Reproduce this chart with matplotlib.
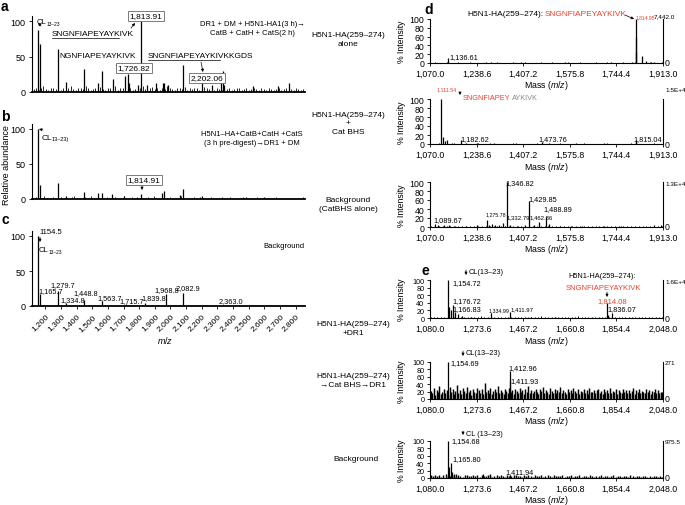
import matplotlib.pyplot as plt
import numpy as np
from matplotlib.patches import FancyArrowPatch
from matplotlib.lines import Line2D

plt.rcParams['font.family'] = ['Liberation Sans Narrow', 'Liberation Sans', 'DejaVu Sans']
plt.rcParams['mathtext.fontset'] = 'custom'
plt.rcParams['mathtext.rm'] = 'Liberation Sans'
plt.rcParams['mathtext.it'] = 'Liberation Sans:italic'

# ---- data (m/z, relative intensity) ----
a_mz = [1154.5, 1165.7, 1279.7, 1334.8, 1448.8, 1535.0, 1563.7, 1631.0, 1711.0, 1726.8, 1733.0, 1795.0,
        1813.9, 1848.0, 1905.0, 1950.0, 1956.0, 1987.0, 2082.9, 2202.1, 2268.0, 2323.0, 2338.0, 2345.0,
        2530.0, 2690.0, 2758.0]
a_int = [88, 67, 60, 14, 33, 12, 30, 19, 22, 25, 12, 10, 100, 10, 12, 13, 12, 10, 38, 14, 10, 25, 29, 10, 8, 8, 13]
a_noise = [4, 6, 3, 5, 8, 4, 3, 6, 5, 4, 7, 3, 5, 4, 6, 9, 4, 3, 5, 6, 4, 8, 5, 3, 4, 6, 5, 7, 4, 3, 6, 5, 4, 8,
           3, 5, 6, 4, 7, 5, 3, 4, 6, 5, 9, 4, 3, 5, 7, 4, 6, 3, 5, 4, 8, 6, 4, 3, 5, 6, 4, 7, 3, 5, 4, 6, 5, 3,
           4, 7, 5, 4, 6, 3, 5, 4, 3, 6, 4, 5, 3, 4, 6, 5, 3, 4, 5, 3, 4, 6, 4, 3, 5, 4, 3, 5, 4, 3, 4, 6, 3, 4,
           5, 3, 4, 3, 5, 4, 3, 4]

b_mz = [1154.5, 1165.7, 1279.7, 1334.8, 1448.8, 1535.0, 1563.7, 1625.0, 1700.0, 1814.9, 1945.0, 1956.0,
        2060.0, 2082.9, 2200.0, 2480.0, 2600.0]
b_int = [100, 20, 23, 5, 10, 9, 9, 7, 4, 7, 9, 12, 6, 15, 4, 3, 3]
b_noise = [2, 3, 1, 2, 4, 2, 1, 3, 2, 2, 3, 1, 2, 2, 3, 4, 2, 1, 2, 3, 2, 4, 2, 1, 2, 3, 2, 3, 2, 1, 3, 2, 2, 4,
           1, 2, 3, 2, 3, 2, 1, 2, 3, 2, 4, 2, 1, 2, 3, 2, 3, 1, 2, 2, 4, 3, 2, 1, 2, 3, 2, 3, 1, 2, 2, 3, 2, 1,
           2, 3, 2, 2, 3, 1, 2, 2, 1, 3, 2, 2, 1, 2, 3, 2, 1, 2, 2, 1, 2, 3, 2, 1, 2, 2, 1, 2, 2, 1, 2, 3]

c_mz = [1154.5, 1165.7, 1279.7, 1334.8, 1448.8, 1563.7, 1715.7, 1839.8, 1968.8, 2082.9, 2363.0]
c_int = [100, 17, 22, 4, 9, 7, 3, 4, 17, 19, 2]
c_noise = [1, 2, 1, 1, 2, 1, 1, 2, 1, 1, 2, 1, 1, 1, 2, 1, 1, 2, 1, 1, 1, 2, 1, 1, 2, 1, 1, 1, 2, 1, 1, 2, 1, 1,
           1, 2, 1, 1, 1, 1, 2, 1, 1, 1, 2, 1, 1, 1, 1, 2, 1, 1, 1, 1, 1, 2, 1, 1, 1, 1]
c_ticks = list(range(1200, 2801, 100))

d_ticks = [1070.0, 1238.6, 1407.2, 1575.8, 1744.4, 1913.0]
e_ticks = [1080.0, 1273.6, 1467.2, 1660.8, 1854.4, 2048.0]

d1_mz = [1136.61, 1290, 1400, 1560, 1724, 1800, 1814.95, 1815.95, 1816.95, 1836.9, 1852, 1868, 1880]
d1_int = [12, 2, 1.5, 1.5, 3, 2, 100, 59, 25, 17, 5, 3, 2]
d1_noise = [1, 1.5, 0.8, 1, 1.2, 0.8, 1, 1.5, 1, 0.8, 1.2, 1, 0.8, 1, 1.4, 1, 0.8, 1.2, 1, 0.8, 1, 1.5, 1, 0.8,
            1.2, 1, 0.8, 1, 1.3, 1, 0.8, 1.2, 1, 0.8, 1, 1.4, 1, 0.8, 1.2, 1, 0.8, 1, 1.5, 1, 0.8, 1.2, 1, 0.8,
            1, 1.3, 1, 0.8, 1.2, 1, 0.8, 1, 1.4, 1, 0.8, 1.2]

d2_mz = [1111.54, 1117, 1124, 1131, 1150, 1182.62, 1200, 1240, 1300, 1380, 1473.76, 1500, 1600, 1700, 1815.04, 1817]
d2_int = [100, 15, 6, 8, 3, 8, 2, 2, 2, 2, 5, 2, 2, 2, 8, 4]
d2_noise = [1, 0.8, 1.2, 1, 0.7, 1, 1.3, 0.8, 1, 1.1, 0.7, 1, 1.2, 0.8, 1, 1.3, 0.7, 1, 1.1, 0.8, 1, 1.2, 0.7, 1,
            1.1, 0.8, 1, 1.3, 0.7, 1, 1.1, 0.8, 1, 1.2, 0.7, 1, 1.1, 0.8, 1, 1.3, 0.7, 1, 1.1, 0.8, 1, 1.2, 0.7,
            1, 1.1, 0.8, 1, 1.2, 0.7, 1, 1.1, 0.8, 1, 1.3, 0.7, 1]

d3_mz = [1089.67, 1100, 1120, 1140, 1160, 1200, 1240, 1275.78, 1285, 1295, 1305, 1318, 1332.79, 1346.82, 1360,
         1390, 1415, 1429.85, 1446, 1462.86, 1488.89, 1500, 1540, 1580, 1620, 1700, 1760, 1880, 1905]
d3_int = [6, 4, 5, 4, 3, 3, 4, 15, 5, 6, 5, 4, 10, 100, 5, 3, 4, 57, 4, 12, 22, 6, 3, 3, 3, 2, 2, 4, 5]
d3_noise = [2, 1.5, 2.5, 1.8, 2, 1.5, 2.2, 1.8, 2.5, 1.5, 2, 1.8, 2.2, 1.5, 2.4, 1.8, 2, 1.5, 2.2, 1.8, 2.5, 1.5,
            2, 1.8, 2.2, 1.5, 2.4, 1.8, 2, 1.5, 2.2, 1.8, 2.5, 1.5, 2, 1.8, 2.2, 1.5, 2.4, 1.8, 2, 1.5, 2.2, 1.8,
            2.5, 1.5, 2, 1.8, 2.2, 1.5, 2.4, 1.8, 2, 1.5, 2.2, 1.8, 2.5, 1.5, 2, 1.8]

e1_mz = [1154.72, 1160, 1165.83, 1176.72, 1185, 1195, 1215, 1250, 1334.99, 1411.97, 1500, 1600, 1814.08, 1820, 1836.07]
e1_int = [100, 28, 20, 35, 15, 10, 4, 3, 12, 15, 3, 3, 40, 8, 12]
e1_noise = [2, 3, 1.5, 2.5, 3.5, 2, 1.5, 3, 2.5, 2, 3.5, 1.5, 2.5, 2, 3, 4, 2, 1.5, 2.5, 3, 2, 3.5, 2.5, 1.5, 2,
            3, 2.5, 3.5, 2, 1.5, 3, 2.5, 2, 4, 1.5, 2.5, 3, 2, 3.5, 2.5, 1.5, 2, 3, 2.5, 4, 2, 1.5, 2.5, 3.5, 2,
            3, 1.5, 2.5, 2, 4, 3, 2, 1.5, 2.5, 3, 2, 3.5, 1.5, 2.5, 2, 3, 2.5, 1.5, 2, 3.5]

e2_mz = [1154.69, 1411.93, 1412.96]
e2_int = [100, 50, 75]
e2_noise = [22, 15, 30, 12, 25, 18, 35, 14, 20, 28, 16, 24, 12, 32, 19, 26, 14, 22, 38, 17, 24, 13, 29, 21, 16,
            33, 18, 25, 12, 27, 20, 15, 31, 23, 17, 26, 14, 44, 19, 24, 16, 29, 13, 22, 27, 18, 34, 15, 25, 20,
            14, 28, 22, 17, 31, 19, 24, 13, 26, 21, 16, 30, 18, 23, 14, 27, 20, 36, 17, 25, 15, 22, 28, 19, 13,
            26, 21, 32, 16, 24, 18, 14, 29, 22, 17, 27, 15, 23, 19, 33, 16, 25, 20, 14, 28, 18, 24, 15, 30, 21,
            17, 26, 13, 22, 19, 27, 16, 24, 14, 31, 20, 18, 25, 15, 23, 28, 17, 21, 14, 26, 19, 24, 16, 29, 15,
            22, 18, 27, 13, 24, 20, 16, 28, 19, 23, 15, 25, 17, 21, 30, 14, 23, 18, 26, 16, 22, 20, 15, 27, 18,
            24, 14, 21, 19, 26, 17, 23, 15, 20, 18]

e3_mz = [1154.68, 1160, 1165.80, 1170, 1180, 1190, 1300, 1330, 1411.94]
e3_int = [100, 30, 40, 15, 12, 10, 12, 10, 9]
e3_noise = [7, 5, 9, 6, 8, 4, 7, 10, 6, 5, 8, 7, 5, 9, 6, 4, 8, 7, 5, 6, 9, 5, 7, 4, 8, 6, 5, 7, 9, 4, 6, 8, 5,
            7, 6, 4, 8, 5, 6, 7, 9, 5, 6, 4, 7, 5, 8, 6, 4, 7, 5, 6, 8, 4, 5, 7, 6, 4, 8, 5, 6, 5, 7, 4, 6, 5, 8,
            4, 6, 5, 7, 4, 5, 6, 4, 7, 5, 4, 6, 5, 7, 4, 5, 6, 4, 5, 7, 4, 6, 5, 4, 6, 5, 4, 7, 5, 4, 6, 5, 4, 5,
            6, 4, 5, 4, 6, 5, 4, 5, 4]

W, H = 685, 506
fig = plt.figure(figsize=(W / 100, H / 100), dpi=100)


def fx(x):
    return x / W


def fy(y):
    return 1 - y / H


def txt(x, y, s, size=6, ha='left', va='center', **kw):
    return fig.text(fx(x), fy(y), s, fontsize=size, ha=ha, va=va, **kw)


def arrow(x0, y0, x1, y1, color='k'):
    fig.add_artist(FancyArrowPatch((fx(x0), fy(y0)), (fx(x1), fy(y1)), transform=fig.transFigure,
                                   arrowstyle='-|>', mutation_scale=4, lw=0.5, color=color,
                                   shrinkA=0, shrinkB=0))


def uline(x0, x1, y):
    fig.add_artist(Line2D([fx(x0), fx(x1)], [fy(y), fy(y)], transform=fig.transFigure, lw=0.5, color='k'))


def boxed(x, y, s):
    txt(x, y, s, size=6, ha='center',
        bbox=dict(boxstyle='square,pad=0.15', fc='white', ec='0.4', lw=0.6))


def cl_label(x, y, sub, size=6):
    txt(x, y, 'CL', size=size)
    txt(x + 9.5, y + 2, sub, size=size - 2)


def spec_axes(x0, x1, y100, y0, ymax):
    top = y0 - (y0 - y100) * ymax / 100
    ax = fig.add_axes([fx(x0), fy(y0), (x1 - x0) / W, (y0 - top) / H])
    ax.set_ylim(0, ymax)
    return ax


def left_panel(y100, y0, mz, inten, noise):
    ax = spec_axes(32, 305, y100, y0, 107)
    ax.set_xlim(1115, 2860)
    ax.vlines(np.linspace(1125, 2850, len(noise)), 0, noise, color='k', lw=0.6)
    ax.vlines(mz, 0, inten, color='k', lw=0.9)
    for s in ['top', 'right']:
        ax.spines[s].set_visible(False)
    ax.spines['left'].set_linewidth(0.8)
    ax.spines['bottom'].set_linewidth(1.3)
    ax.set_yticks([0, 50, 100])
    ax.tick_params(axis='y', labelsize=6.5, length=2.5, width=0.6, pad=2)
    ax.tick_params(axis='x', bottom=False, labelbottom=False)
    return ax


def right_panel(y100, y0, xlim, ticks, mz, inten, noise, top_label, top_xy, noise_lw=0.7, ysize=6.3):
    ax = spec_axes(430, 663, y100, y0, 100.5)
    ax.set_xlim(*xlim)
    ax.vlines(np.linspace(xlim[0] + 3, xlim[1] - 3, len(noise)), 0, noise, color='k', lw=noise_lw)
    ax.vlines(mz, 0, inten, color='k', lw=0.9)
    ax.spines['top'].set_visible(False)
    for s in ['left', 'right', 'bottom']:
        ax.spines[s].set_linewidth(0.8)
    ax.spines['left'].set_bounds(0, 100)
    ax.spines['right'].set_bounds(0, 100)
    ax.set_yticks([0, 20, 40, 60, 80, 100])
    ax.set_xticks(ticks)
    ax.set_xticklabels([f'{t:,.1f}' for t in ticks])
    ax.tick_params(axis='x', labelsize=6.3, length=2.5, width=0.6, pad=1.5)
    ax.tick_params(axis='y', labelsize=ysize, length=2.5, width=0.6, pad=1.5)
    txt(665, y0, '0', size=6.3)
    txt(top_xy[0], top_xy[1], top_label, size=4.6, ha=top_xy[2])
    txt(401, (y100 + y0) / 2, '% Intensity', size=6.3, ha='center', rotation=90)
    txt(546, y0 + 22, r'Mass ($\mathit{m/z}$)', size=6.3, ha='center')
    return ax


# ---------------- panel a ----------------
left_panel(22, 93, a_mz, a_int, a_noise)
txt(1, 7, 'a', size=10, weight='bold')
cl_label(37, 23, '13\u201323', 5.5)
arrow(41, 27, 38, 24)
txt(52, 35, 'SNGNFIAPEYAYKIVK', size=6)
uline(52, 119, 39)
txt(59, 57, 'NGNFIAPEYAYKIVK', size=6)
arrow(116, 66, 121, 69)
boxed(134, 69, '1,726.82')
boxed(146, 17, '1,813.91')
arrow(131, 29, 135, 24)
txt(148, 57, 'SNGNFIAPEYAYKIVKKGDS', size=6)
uline(148, 220, 61)
arrow(201, 63, 203, 73)
boxed(207, 79, '2,202.06')
txt(252, 29, 'DR1 + DM + H5N1-HA1(3 h)\u2192\nCatB + CatH + CatS(2 h)', size=5.5, ha='center',
    linespacing=1.3)

# ---------------- panel b ----------------
left_panel(130, 200, b_mz, b_int, b_noise)
txt(1, 117, 'b', size=10, weight='bold')
txt(7, 165, 'Relative abundance', size=6.5, ha='center', rotation=90)
arrow(43, 131, 39, 130)
cl_label(42, 138, '13\u201323)', 6)
txt(252, 139, 'H5N1\u2013HA+CatB+CatH +CatS\n(3 h pre-digest)\u2192DR1 + DM', size=5.5, ha='center',
    linespacing=1.25)
boxed(144, 181, '1,814.91')
arrow(142, 186, 142, 191)

# ---------------- panel c ----------------
ax_c = left_panel(237, 307, c_mz, c_int, c_noise)
ax_c.set_xticks(c_ticks)
ax_c.set_xticklabels([f'{t:,}' for t in c_ticks], rotation=45, ha='right', rotation_mode='anchor')
ax_c.tick_params(axis='x', bottom=True, labelbottom=True, labelsize=6, length=2.5, width=0.6, pad=2)
txt(1, 220, 'c', size=10, weight='bold')
txt(39, 233, '1154.5', size=5.5)
arrow(40, 238, 40, 243)
cl_label(39, 251, '13\u201323', 5.5)
txt(304, 247, 'Background', size=5.5, ha='right')
for x, y, s in [(38, 292, '1,165.7'), (50, 286, '1,279.7'), (60, 301, '1,334.8'), (73, 294, '1,448.8'),
                (97, 299, '1,563.7'), (119, 302, '1,715.7'), (141, 299, '1,839.8'), (154, 291, '1,968.8'),
                (176, 289, '2,082.9'), (219, 302, '2,363.0')]:
    txt(x, y, s, size=5.3)
txt(165, 340, r'$\mathit{m/z}$', size=6.5, ha='center')

# ---------------- panel d ----------------
txt(424, 10, 'd', size=10, weight='bold')
right_panel(20, 64, (1070, 1913), d_ticks, d1_mz, d1_int, d1_noise, '7,442.0', (664, 17, 'center'))
txt(467, 15, 'H5N1-HA(259\u2013274):', size=6)
txt(545, 15, 'SNGNFIAPEYAYKIVK', size=6, color='#e8412c')
arrow(625, 16, 634, 20)
txt(645, 18, '1,814.95', size=3.6, ha='center', color='#e8412c')
txt(449, 58, '1,136.61', size=5.3)
txt(348, 40, 'H5N1-HA(259\u2013274)\nalone', size=6, ha='center', linespacing=1.3)

right_panel(100, 145, (1070, 1913), d_ticks, d2_mz, d2_int, d2_noise, '1.5E+4', (665, 90, 'left'))
txt(447, 90, '1,111.54', size=3.8, ha='center', color='#e8412c')
arrow(460, 93, 460, 96)
txt(463, 98, 'SNGNFIAPEY', size=5.3, color='#e8412c')
txt(512, 98, 'AYKIVK', size=5.3, color='0.55')
txt(460, 140, '1,182.62', size=5.3)
txt(538, 140, '1,473.76', size=5.3)
txt(633, 140, '1,815.04', size=5.3)
txt(348, 124, 'H5N1-HA(259\u2013274)\n+\nCat BHS', size=6, ha='center', linespacing=1.3)

right_panel(183, 228, (1070, 1913), d_ticks, d3_mz, d3_int, d3_noise, '1.3E+4', (665, 184, 'left'))
txt(505, 184, '1,346.82', size=5.3)
txt(528, 200, '1,429.85', size=5.3)
txt(543, 210, '1,488.89', size=5.3)
txt(529.5, 218, '1,462.86', size=4.3)
txt(507, 218, '1,332.79', size=4.3)
txt(486, 215, '1,275.78', size=3.8)
txt(433, 221, '1,089.67', size=5.3)
txt(348, 205, 'Background\n(CatBHS alone)', size=6, ha='center', linespacing=1.3)

# ---------------- panel e ----------------
txt(421, 271, 'e', size=10, weight='bold')
right_panel(281, 319, (1080, 2048), e_ticks, e1_mz, e1_int, e1_noise, '1.6E+4', (665, 282, 'left'),
            ysize=5.2)
arrow(466, 271, 466, 276)
txt(469, 272, 'CL(13\u201323)', size=5.3)
txt(452, 284, '1,154.72', size=5.3)
txt(452, 302, '1,176.72', size=5.3)
txt(452, 310, '1,166.83', size=5.3)
txt(489, 311, '1,334.99', size=3.8)
txt(510.5, 310, '1,411.97', size=4.3)
txt(607, 310, '1,836.07', size=5.3)
txt(568, 277, 'H5N1-HA(259\u2013274):', size=5.3)
txt(603, 289, 'SNGNFIAPEYAYKIVK', size=5.5, ha='center', color='#e8412c')
arrow(607, 293, 607, 298)
txt(612, 302, '1,814.08', size=5.5, ha='center', color='#e8412c')
txt(353, 329, 'H5N1-HA(259\u2013274)\n+DR1', size=6, ha='center', linespacing=1.3)

right_panel(363, 400, (1080, 2048), e_ticks, e2_mz, e2_int, e2_noise, '271', (665, 364, 'left'),
            noise_lw=1.05, ysize=5.2)
arrow(463, 352, 463, 357)
txt(466, 354, 'CL(13\u201323)', size=5.3)
txt(450, 364, '1,154.69', size=5.3)
txt(508, 369, '1,412.96', size=5.3)
txt(510, 382, '1,411.93', size=5.3)
txt(353, 381, 'H5N1-HA(259\u2013274)\n\u2192Cat BHS\u2192DR1', size=6, ha='center', linespacing=1.3)

right_panel(442, 479, (1080, 2048), e_ticks, e3_mz, e3_int, e3_noise, '975.5', (665, 443, 'left'),
            noise_lw=1.05, ysize=5.2)
arrow(463, 432, 463, 436)
txt(466, 434, 'CL (13\u201323)', size=5.3)
txt(451, 442, '1,154.68', size=5.3)
txt(452, 460, '1,165.80', size=5.3)
txt(505, 473, '1,411.94', size=5.3)
txt(356, 460, 'Background', size=6, ha='center')

fig.savefig('out.png', dpi=100)
